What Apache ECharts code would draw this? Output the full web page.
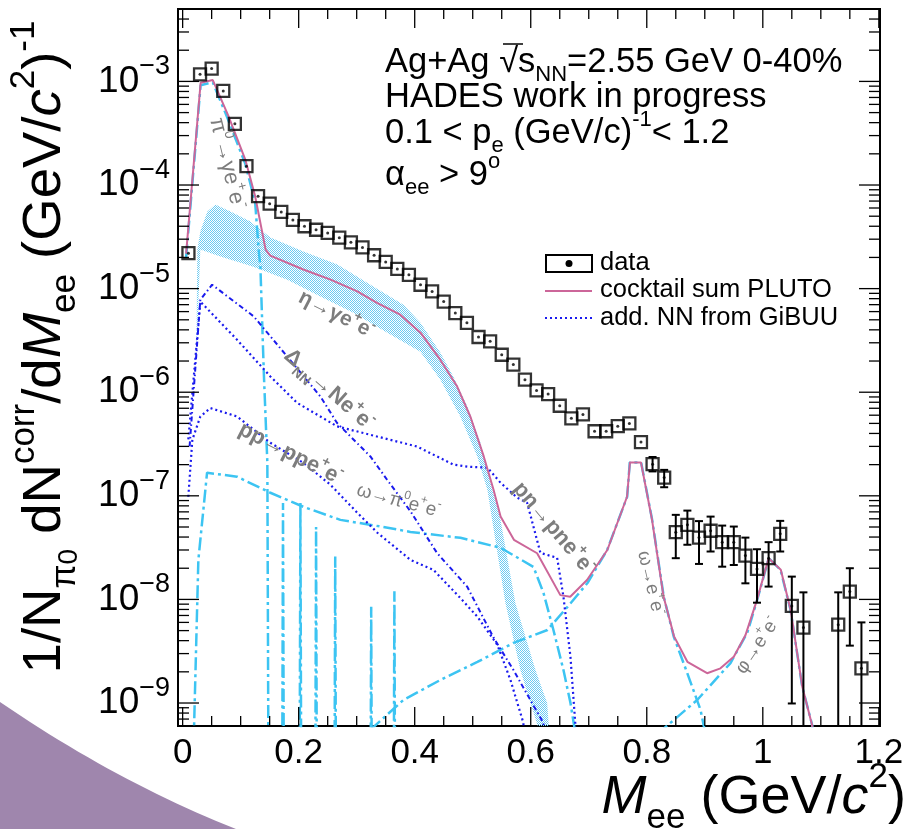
<!DOCTYPE html>
<html>
<head>
<meta charset="utf-8">
<script src="https://cdn.jsdelivr.net/npm/echarts@6/dist/echarts.min.js"></script>
<style>
  html, body { margin: 0; padding: 0; background: #ffffff; }
  #main { width: 910px; height: 829px; }
</style>
</head>
<body>
<div id="main"></div>
<script>
const FONT = '"Liberation Sans", Arial, Helvetica, sans-serif';

// ---- axis ranges ----
const X_MIN = -0.008, X_MAX = 1.202;
const Y_MIN = 6e-10, Y_MAX = 5e-3;
const xTickLabels = [0, 0.2, 0.4, 0.6, 0.8, 1, 1.2];
const yDecades = [1e-9, 1e-8, 1e-7, 1e-6, 1e-5, 1e-4, 1e-3];
const yDecadeExp = ['\u22129', '\u22128', '\u22127', '\u22126', '\u22125', '\u22124', '\u22123'];

// ---- measured dielectron spectrum ----
const dataX = [0.01, 0.03, 0.05, 0.07, 0.09, 0.11, 0.13, 0.15, 0.17, 0.19, 0.21, 0.23, 0.25, 0.27, 0.29, 0.31,
  0.33, 0.35, 0.37, 0.39, 0.41, 0.43, 0.45, 0.47, 0.49, 0.51, 0.53, 0.55, 0.57, 0.59, 0.61, 0.63, 0.65, 0.67,
  0.69, 0.71, 0.73, 0.75, 0.77, 0.79, 0.81, 0.83, 0.85, 0.87, 0.89, 0.91, 0.93, 0.95, 0.97, 0.99, 1.01, 1.03,
  1.05, 1.07, 1.13, 1.15, 1.17];
const dataY = [2.2e-5, 1.17e-3, 1.33e-3, 8.1e-4, 3.9e-4, 1.52e-4, 7.8e-5, 6.6e-5, 5.5e-5, 4.6e-5, 4.0e-5, 3.7e-5,
  3.45e-5, 3.1e-5, 2.8e-5, 2.5e-5, 2.1e-5, 1.81e-5, 1.55e-5, 1.36e-5, 1.09e-5, 9.4e-6, 7.5e-6, 5.8e-6, 4.67e-6,
  3.41e-6, 3.1e-6, 2.3e-6, 1.85e-6, 1.32e-6, 1.04e-6, 9.6e-7, 7.4e-7, 5.6e-7, 6.1e-7, 4.2e-7, 4.2e-7, 4.7e-7,
  5.0e-7, 3.3e-7, 2.02e-7, 1.5e-7, 4.46e-8, 5.25e-8, 3.95e-8, 4.6e-8, 3.57e-8, 3.57e-8, 2.65e-8, 1.97e-8,
  2.5e-8, 4.3e-8, 8.65e-9, 5.35e-9, 5.7e-9, 1.19e-8, 2.16e-9];
// statistical error bars (lower / upper bound)
const errX  = [0.81, 0.83, 0.85, 0.87, 0.89, 0.91, 0.93, 0.95, 0.97, 0.99, 1.01, 1.03, 1.05, 1.07, 1.13, 1.15, 1.17];
const errLo = [1.72e-7, 1.21e-7, 2.5e-8, 3.37e-8, 2.2e-8, 2.9e-8, 2.07e-8, 2.15e-8, 1.43e-8, 9.3e-9, 1.33e-8,
  2.9e-8, 9.9e-10, 1e-12, 1e-12, 3.58e-9, 1e-12];
const errHi = [2.37e-7, 1.78e-7, 6.55e-8, 7.2e-8, 5.7e-8, 6.3e-8, 5.16e-8, 5.05e-8, 3.95e-8, 3.05e-8, 3.57e-8,
  5.73e-8, 1.66e-8, 1.17e-8, 1.17e-8, 2.0e-8, 6.0e-9];

// ---- PLUTO cocktail sum ----
const cocktailX = [0.006, 0.031, 0.052, 0.079, 0.108, 0.125, 0.143, 0.151, 0.208, 0.255, 0.301, 0.335, 0.375,
  0.41, 0.444, 0.473, 0.496, 0.519, 0.536, 0.548, 0.571, 0.611, 0.651, 0.668, 0.697, 0.732, 0.766, 0.771, 0.790,
  0.809, 0.829, 0.847, 0.870, 0.904, 0.927, 0.95, 0.970, 0.990, 1.010, 1.031, 1.048, 1.068, 1.085, 1.09];
const cocktailY = [2.18e-5, 9.7e-4, 1.03e-3, 4.62e-4, 1.76e-4, 7.8e-5, 2.38e-5, 2.08e-5, 1.53e-5, 1.22e-5, 9.4e-6,
  7.3e-6, 5.6e-6, 3.76e-6, 2.06e-6, 1.14e-6, 5.8e-7, 2.4e-7, 1.14e-7, 6.3e-8, 3.76e-8, 2.79e-8, 1.1e-8, 1.06e-8,
  1.54e-8, 3.0e-8, 9.8e-8, 2.1e-7, 2.1e-7, 5.9e-8, 1.06e-8, 4.4e-9, 2.5e-9, 1.94e-9, 2.16e-9, 2.8e-9, 4.5e-9,
  9.9e-9, 2.5e-8, 1.93e-8, 7.9e-9, 1.44e-9, 6.1e-10, 3e-10];

// ---- eta Dalitz uncertainty band ----
const etaUpX = [0.0253, 0.0305, 0.0426, 0.0564, 0.0823, 0.1167, 0.1512, 0.2081, 0.2667, 0.3236, 0.3805, 0.4098,
  0.4443, 0.4667, 0.4909, 0.5133, 0.5305, 0.5478, 0.5736, 0.6081, 0.6283, 0.6322];
const etaUpY = [2.38e-5, 3.56e-5, 5.55e-5, 6.49e-5, 5.55e-5, 4.44e-5, 3.11e-5, 2.28e-5, 1.71e-5, 1.09e-5, 7.0e-6,
  4.69e-6, 2.41e-6, 1.41e-6, 7.24e-7, 3.25e-7, 1.34e-7, 5.86e-8, 9.2e-9, 2.08e-9, 1.0e-9, 5e-10];
const etaLoX = [0.0236, 0.0305, 0.065, 0.1219, 0.1805, 0.2374, 0.2943, 0.3529, 0.4098, 0.4443, 0.4788, 0.5081,
  0.5253, 0.5334, 0.5564, 0.5822, 0.5995, 0.6167];
const etaLoY = [2.06e-6, 2.38e-5, 2.04e-5, 1.63e-5, 1.22e-5, 8.38e-6, 5.86e-6, 3.76e-6, 2.46e-6, 1.32e-6, 5.79e-7,
  2.38e-7, 1.14e-7, 5.86e-8, 9.2e-9, 2.08e-9, 1.0e-9, 5e-10];

// ---- PLUTO components ----
const pi0X = [0.006, 0.031, 0.052, 0.079, 0.108, 0.125, 0.131, 0.134, 0.140, 0.146, 0.150, 0.170, 0.173, 0.176,
  0.200, 0.203, 0.206, 0.227, 0.230, 0.233, 0.260, 0.263, 0.266, 0.322, 0.325, 0.328, 0.362, 0.365, 0.368];
const pi0Y = [2.0e-5, 9.2e-4, 9.8e-4, 4.2e-4, 1.6e-4, 6.8e-5, 2.38e-5, 1.64e-5, 1.5e-6, 2.1e-7, 1e-13, 1e-13,
  8.5e-8, 1e-13, 1e-13, 8.5e-8, 1e-13, 1e-13, 5e-8, 1e-13, 1e-13, 2.6e-8, 1e-13, 1e-13, 8.5e-9, 1e-13, 1e-13,
  1.2e-8, 1e-13];
const omegaDalitzX = [0.0116, 0.0271, 0.0421, 0.0938, 0.1512, 0.2081, 0.2719, 0.3460, 0.3926, 0.4788, 0.5478,
  0.6047, 0.6219, 0.6391, 0.6564, 0.6685, 0.6771];
const omegaDalitzY = [1e-11, 2.41e-8, 1.67e-7, 1.53e-7, 1.07e-7, 7.83e-8, 5.86e-8, 5.0e-8, 4.48e-8, 3.93e-8,
  3.15e-8, 2.06e-8, 1.16e-8, 5.07e-9, 2.08e-9, 1.0e-9, 5e-10];
const omegaEEX = [0.3236, 0.3805, 0.4443, 0.5081, 0.5702, 0.6288, 0.6633, 0.6978, 0.7317, 0.7662, 0.7707, 0.7903,
  0.8093, 0.8293, 0.8466, 0.8697, 0.8926, 0.9012];
const omegaEEY = [5.5e-10, 1.07e-9, 1.67e-9, 2.49e-9, 3.8e-9, 5.07e-9, 8.47e-9, 1.44e-8, 3.0e-8, 9.8e-8, 2.1e-7,
  2.1e-7, 5.86e-8, 1.06e-8, 4.35e-9, 1.95e-9, 8.6e-10, 5e-10];
const phiEEX = [0.818, 0.8869, 0.9443, 0.9731, 0.9903, 1.0103, 1.0305, 1.0478, 1.0679, 1.0852, 1.0874];
const phiEEY = [5e-10, 1.07e-9, 2.43e-9, 4.74e-9, 9.9e-9, 2.5e-8, 1.93e-8, 7.9e-9, 1.44e-9, 6.1e-10, 3e-10];

// ---- GiBUU NN contributions ----
const omegaPi0X = [0.012, 0.0305, 0.0507, 0.1224, 0.18, 0.2374, 0.2662, 0.3236, 0.3524, 0.3926, 0.4386, 0.4903,
  0.5357, 0.5702, 0.6219, 0.628];
const omegaPi0Y = [3e-7, 7.8e-6, 1.09e-5, 5.4e-6, 2.22e-6, 9.1e-7, 5.04e-7, 2.4e-7, 1.43e-7, 7.1e-8, 2.8e-8,
  1.33e-8, 4.3e-9, 2.08e-9, 6.4e-10, 1e-10];
const pnX = [0.0098, 0.0305, 0.0938, 0.1512, 0.1972, 0.2662, 0.3236, 0.4041, 0.4667, 0.4909, 0.5253, 0.5478,
  0.5766, 0.5938, 0.6167, 0.6455, 0.6564, 0.6685, 0.6771, 0.679];
const pnY = [3.5e-7, 7.5e-6, 3.21e-6, 1.42e-6, 7.9e-7, 4.68e-7, 3.88e-7, 2.99e-7, 2.0e-7, 1.91e-7, 1.87e-7,
  1.34e-7, 9.6e-8, 8.55e-8, 2.81e-8, 2.52e-8, 1.06e-8, 2.78e-9, 6e-10, 1e-11];
const ppX = [0.0098, 0.0167, 0.0305, 0.0478, 0.0938, 0.1512, 0.2081, 0.2547, 0.3012, 0.3357, 0.3926, 0.4322,
  0.4788, 0.5081, 0.5426, 0.5650, 0.5874, 0.591];
const ppY = [9.8e-8, 3.47e-7, 5.83e-7, 7.03e-7, 5.83e-7, 3.25e-7, 2.08e-7, 1.28e-7, 6.85e-8, 4.4e-8, 2.41e-8,
  1.93e-8, 1.03e-8, 6.8e-9, 3.63e-9, 1.67e-9, 6.4e-10, 1e-11];

// ---- colours ----
const PINK = '#cc6699';
const CYAN = '#3cc4f2';
const BLUE = '#1a1aee';
const GRAY = '#7d7d7d';

const pairs = (xs, ys) => xs.map((x, i) => [x, ys[i]]);

// dotted hatch used for the eta band
function makeHatch() {
  const c = document.createElement('canvas');
  c.width = 4; c.height = 4;
  const g = c.getContext('2d');
  g.clearRect(0, 0, 4, 4);
  g.fillStyle = '#6ccaf2';
  [[0,0],[2,0],[1,1],[3,1],[0,2],[2,2],[1,3],[3,3]].forEach(p => g.fillRect(p[0], p[1], 1, 1));
  return c;
}
const hatch = makeHatch();

// rich-text presets with sub/superscripts
function richSet(size, opt) {
  opt = opt || {};
  const col = opt.color || '#000';
  const w = opt.weight || 'normal';
  const lh = Math.round(size * 1.4);
  const ss = Math.round(size * (opt.scale || 0.65));
  const base = { fontFamily: FONT, fontWeight: w, fill: col, color: col };
  return {
    n:   Object.assign({}, base, { fontSize: size, lineHeight: lh }),
    it:  Object.assign({}, base, { fontSize: size, lineHeight: lh, fontStyle: 'italic' }),
    sup: Object.assign({}, base, { fontSize: ss, lineHeight: ss, verticalAlign: 'top' }),
    sub: Object.assign({}, base, { fontSize: ss, lineHeight: ss, verticalAlign: 'bottom' }),
    subsup: Object.assign({}, base, { fontSize: Math.round(ss * 0.8), lineHeight: Math.round(ss * 1.6), verticalAlign: 'bottom' })
  };
}

function lineSeries(name, xs, ys, color, width, dash, z) {
  return {
    name, type: 'line', data: pairs(xs, ys), showSymbol: false, symbol: 'none',
    lineStyle: { color, width, type: dash }, clip: true, z, silent: true, animation: false
  };
}

// tick mark positions
const xMajor = xTickLabels.slice();
const xMinor = [];
for (let k = 1; k <= 24; k++) { if (k % 4 !== 0) xMinor.push(k * 0.05); }
const yMinor = [];
for (let e = -10; e <= -3; e++) {
  for (let m = 2; m <= 9; m++) {
    const v = m * Math.pow(10, e);
    if (v > Y_MIN * 1.01 && v < Y_MAX * 0.99) yMinor.push(v);
  }
}
const xTickData = xMajor.map(v => [v, Y_MIN, 1]).concat(xMinor.map(v => [v, Y_MIN, 0]));
const yTickData = yDecades.map(v => [X_MIN, v, 1]).concat(yMinor.map(v => [X_MIN, v, 0]));

// lower-left slide decoration outline (quadratic edge)
const decoPts = [];
for (let i = 0; i <= 24; i++) {
  const t = i / 24;
  decoPts.push([
    2 * (1 - t) * t * 117 + t * t * 236,
    (1 - t) * (1 - t) * 702 + 2 * (1 - t) * t * 782 + t * t * 829
  ]);
}
decoPts.push([0, 829]);

const chart = echarts.init(document.getElementById('main'));

const option = {
  animation: false,
  backgroundColor: '#ffffff',
  grid: { left: 178, top: 9, width: 702, height: 717, show: true, borderColor: '#000', borderWidth: 2,
          backgroundColor: 'rgba(0,0,0,0)' },
  xAxis: {
    type: 'value', min: X_MIN, max: X_MAX,
    axisLine: { show: false }, axisTick: { show: false }, splitLine: { show: false },
    axisLabel: {
      customValues: xTickLabels, margin: 10, fontSize: 35, fontFamily: FONT, color: '#000',
      formatter: v => String(Math.round(v * 10) / 10)
    }
  },
  yAxis: {
    type: 'log', logBase: 10, min: Y_MIN, max: Y_MAX,
    axisLine: { show: false }, axisTick: { show: false }, axisLabel: { show: false }, splitLine: { show: false }
  },
  series: [
    {
      name: 'eta band', type: 'custom', clip: true, z: 1, silent: true,
      data: [[0.3, 1e-5]],
      renderItem: (params, api) => {
        const pts = [];
        etaUpX.forEach((x, i) => pts.push(api.coord([x, etaUpY[i]])));
        for (let i = etaLoX.length - 1; i >= 0; i--) pts.push(api.coord([etaLoX[i], etaLoY[i]]));
        return { type: 'polygon', shape: { points: pts }, style: { fill: { image: hatch, repeat: 'repeat' } } };
      }
    },
    lineSeries('pi0 Dalitz', pi0X, pi0Y, CYAN, 2.5, [13, 4, 3, 4], 3),
    lineSeries('omega Dalitz', omegaDalitzX, omegaDalitzY, CYAN, 2.5, [13, 4, 3, 4], 3),
    lineSeries('omega ee', omegaEEX, omegaEEY, CYAN, 2.5, [13, 4, 3, 4], 3),
    lineSeries('phi ee', phiEEX, phiEEY, CYAN, 2.5, [13, 4, 3, 4], 3),
    lineSeries('omega pi0 ee', omegaPi0X, omegaPi0Y, BLUE, 2, [5, 3, 1.5, 3], 4),
    lineSeries('pn brems', pnX, pnY, BLUE, 2.2, [2, 3], 4),
    lineSeries('pp brems', ppX, ppY, BLUE, 2.2, [2, 3], 4),
    lineSeries('cocktail sum PLUTO', cocktailX, cocktailY, PINK, 2, 'solid', 5),
    {
      name: 'stat errors', type: 'custom', clip: true, z: 6, silent: true,
      data: errX.map((x, i) => [x, errLo[i], errHi[i]]),
      renderItem: (params, api) => {
        const lo = api.coord([api.value(0), api.value(1)]);
        const hi = api.coord([api.value(0), api.value(2)]);
        const st = { stroke: '#000', lineWidth: 2 };
        return { type: 'group', children: [
          { type: 'line', shape: { x1: lo[0], y1: lo[1], x2: hi[0], y2: hi[1] }, style: st },
          { type: 'line', shape: { x1: lo[0] - 4, y1: lo[1], x2: lo[0] + 4, y2: lo[1] }, style: st },
          { type: 'line', shape: { x1: hi[0] - 4, y1: hi[1], x2: hi[0] + 4, y2: hi[1] }, style: st }
        ] };
      }
    },
    {
      name: 'data', type: 'scatter', data: pairs(dataX, dataY), symbol: 'rect', symbolSize: 12, z: 7,
      itemStyle: { color: 'rgba(255,255,255,0)', borderColor: '#000', borderWidth: 2.3 }, silent: true
    },
    {
      name: 'data points', type: 'scatter', data: pairs(dataX, dataY), symbol: 'circle', symbolSize: 3, z: 8,
      itemStyle: { color: '#000' }, silent: true
    },
    {
      name: 'x ticks', type: 'custom', clip: false, z: 9, silent: true, data: xTickData,
      renderItem: (params, api) => {
        const v = api.value(0), major = api.value(2) === 1;
        const b = api.coord([v, Y_MIN]), t = api.coord([v, Y_MAX]);
        const len = major ? 19 : 10;
        const st = { stroke: '#000', lineWidth: 1.3 };
        return { type: 'group', children: [
          { type: 'line', shape: { x1: b[0], y1: b[1], x2: b[0], y2: b[1] - len }, style: st },
          { type: 'line', shape: { x1: t[0], y1: t[1], x2: t[0], y2: t[1] + len }, style: st }
        ] };
      }
    },
    {
      name: 'y ticks', type: 'custom', clip: false, z: 9, silent: true, data: yTickData,
      renderItem: (params, api) => {
        const v = api.value(1), major = api.value(2) === 1;
        const l = api.coord([X_MIN, v]), r = api.coord([X_MAX, v]);
        const len = major ? 21 : 11;
        const st = { stroke: '#000', lineWidth: 1.3 };
        return { type: 'group', children: [
          { type: 'line', shape: { x1: l[0], y1: l[1], x2: l[0] + len, y2: l[1] }, style: st },
          { type: 'line', shape: { x1: r[0], y1: r[1], x2: r[0] - len, y2: r[1] }, style: st }
        ] };
      }
    },
    {
      name: 'y labels', type: 'custom', clip: false, z: 9, silent: true,
      data: yDecades.map((v, i) => [X_MIN, v, i]),
      renderItem: (params, api) => {
        const p = api.coord([X_MIN, api.value(1)]);
        const idx = api.value(2);
        return {
          type: 'text', x: p[0] - 8, y: p[1],
          style: {
            text: '{b|10}{s|' + yDecadeExp[idx] + '}', align: 'right', verticalAlign: 'middle',
            rich: {
              b: { fontSize: 37, fontFamily: FONT, fill: '#000', lineHeight: 56 },
              s: { fontSize: 27, fontFamily: FONT, fill: '#000', lineHeight: 27, verticalAlign: 'top' }
            }
          }
        };
      }
    }
  ],
  graphic: []
};

// slide decoration in the lower-left corner
option.graphic.push({
  type: 'polygon', z: 0, silent: true,
  shape: { points: decoPts },
  style: { fill: '#9f86ad' }
});

// axis titles
const rT = richSet(54.5);
option.graphic.push({
  type: 'text', x: 45, y: 347, rotation: Math.PI / 2, silent: true,
  style: {
    text: '{n|1/N}{sub|\u03c0}{subsup|0}{n| dN}{sup|corr}{n|/d}{it|M}{sub|ee}{n| (GeV/}{it|c}{sup|2}{n|)}{sup|-1}',
    rich: rT, align: 'center', verticalAlign: 'middle'
  }
});
const rX = richSet(54);
option.graphic.push({
  type: 'text', x: 906, y: 798, silent: true,
  style: { text: '{it|M}{sub|ee}{n| (GeV/}{it|c}{sup|2}{n|)}', rich: rX, align: 'right', verticalAlign: 'middle' }
});

// description block
const rD = richSet(34.5);
const infoLines = [
  '{n|Ag+Ag }{n|\u221a}{n|s}{sub|NN}{n|=2.55 GeV 0-40%}',
  '{n|HADES work in progress}',
  '{n|0.1 < p}{sub|e}{n| (GeV/c)}{sup|-1}{n|< 1.2}',
  '{n|\u03b1}{sub|ee}{n| > 9}{sup|o}'
];
const infoY = [62, 97, 133, 175];
infoLines.forEach((t, i) => {
  option.graphic.push({
    type: 'text', x: 385, y: infoY[i], silent: true,
    style: { text: t, rich: rD, align: 'left', verticalAlign: 'middle' }
  });
});
// overbar of the square root
option.graphic.push({
  type: 'line', silent: true, shape: { x1: 503, y1: 44, x2: 523, y2: 44 }, style: { stroke: '#000', lineWidth: 1.5 }
});

// legend
option.graphic.push(
  { type: 'rect', silent: true, shape: { x: 546, y: 255, width: 46, height: 17 },
    style: { fill: 'rgba(0,0,0,0)', stroke: '#000', lineWidth: 2 } },
  { type: 'circle', silent: true, shape: { cx: 569, cy: 263.5, r: 3.5 }, style: { fill: '#000' } },
  { type: 'line', silent: true, shape: { x1: 545, y1: 291, x2: 592, y2: 291 }, style: { stroke: PINK, lineWidth: 2 } },
  { type: 'line', silent: true, shape: { x1: 545, y1: 318, x2: 592, y2: 318 },
    style: { stroke: BLUE, lineWidth: 2.2, lineDash: [2, 3] } }
);
const legendTexts = ['data', 'cocktail sum PLUTO', 'add. NN from GiBUU'];
const legendY = [263, 290, 318];
legendTexts.forEach((t, i) => {
  option.graphic.push({
    type: 'text', x: 600, y: legendY[i], silent: true,
    style: { text: t, fontSize: 25.5, fontFamily: FONT, fill: '#000', align: 'left', verticalAlign: 'middle' }
  });
});

// channel annotations
const annotations = [
  { t: '{n|\u03c0}{sup|0}{n|\u2192\u03b3e}{sup|+}{n|e}{sup|-}', x: 216, y: 118, rot: -1.33, size: 22, w: 'normal' },
  { t: '{n|\u03b7\u2192\u03b3e}{sup|+}{n|e}{sup|-}', x: 300, y: 296, rot: -0.47, size: 21, w: 'bold' },
  { t: '{n|\u0394}{sub|NN}{n|\u2192Ne}{sup|+}{n|e}{sup|-}', x: 287, y: 353, rot: -0.72, size: 22, w: 'bold' },
  { t: '{n|pp\u2192ppe}{sup|+}{n|e}{sup|-}', x: 240, y: 428, rot: -0.47, size: 22, w: 'bold' },
  { t: '{n|\u03c9\u2192\u03c0}{sup|0}{n|e}{sup|+}{n|e}{sup|-}', x: 357, y: 490, rot: -0.26, size: 19, w: 'normal' },
  { t: '{n|pn\u2192pne}{sup|+}{n|e}{sup|-}', x: 517, y: 485, rot: -0.87, size: 22, w: 'bold' },
  { t: '{n|\u03c9\u2192e}{sup|+}{n|e}{sup|-}', x: 643, y: 551, rot: -1.34, size: 19, w: 'normal' },
  { t: '{n|\u03c6\u2192e}{sup|+}{n|e}{sup|-}', x: 740, y: 672, rot: 0.98, size: 19, w: 'normal' }
];
annotations.forEach(a => {
  option.graphic.push({
    type: 'text', x: a.x, y: a.y, rotation: a.rot, silent: true, z: 20,
    style: { text: a.t, rich: richSet(a.size, { color: GRAY, weight: a.w }), align: 'left', verticalAlign: 'middle' }
  });
});

chart.setOption(option);
</script>
</body>
</html>
